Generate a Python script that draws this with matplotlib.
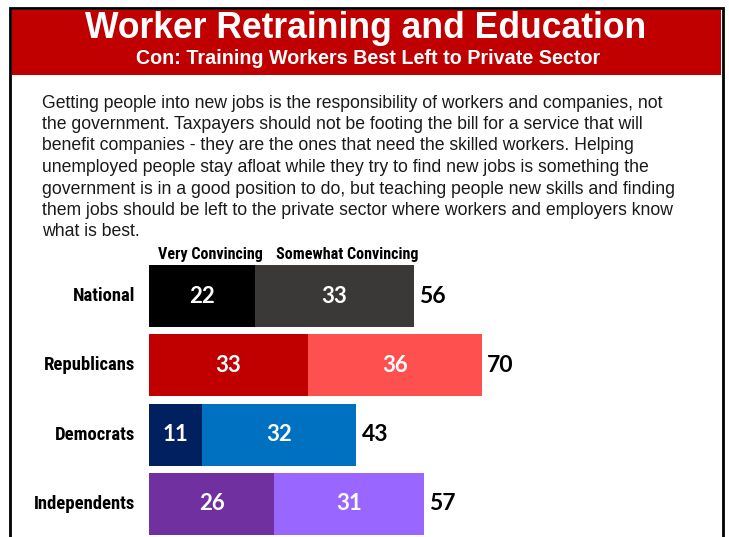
import matplotlib
matplotlib.use("Agg")
import matplotlib.pyplot as plt
from matplotlib.patches import Rectangle
from matplotlib import font_manager

W, H, DPI = 729, 537, 100

title = "Worker Retraining and Education"
subtitle = "Con: Training Workers Best Left to Private Sector"
body_lines = [
    "Getting people into new jobs is the responsibility of workers and companies, not",
    "the government. Taxpayers should not be footing the bill for a service that will",
    "benefit companies - they are the ones that need the skilled workers. Helping",
    "unemployed people stay afloat while they try to find new jobs is something the",
    "government is in a good position to do, but teaching people new skills and finding",
    "them jobs should be left to the private sector where workers and employers know",
    "what is best.",
]

groups = ["National", "Republicans", "Democrats", "Independents"]
very = [22, 33, 11, 26]
somewhat = [33, 36, 32, 31]
totals = [56, 70, 43, 57]
series_names = ["Very Convincing", "Somewhat Convincing"]

very_colors = ["#000000", "#C00000", "#002060", "#7030A0"]
somewhat_colors = ["#3B3838", "#FF5050", "#0070C0", "#9966FF"]

available = {f.name for f in font_manager.fontManager.ttflist}
narrow = next((n for n in ["Roboto Condensed", "Liberation Sans Narrow",
                           "DejaVu Sans Condensed"]
               if n in available), "Liberation Sans")
numfont = "Lato" if "Lato" in available else "DejaVu Sans"
sans = "Liberation Sans"

fig = plt.figure(figsize=(W / DPI, H / DPI), dpi=DPI)


def fx(px):
    return px / W


def fy(py):
    return 1 - py / H


# frame and header banner
fig.patches.append(Rectangle((fx(10), fy(545)), fx(723) - fx(10), fy(8) - fy(545),
                             transform=fig.transFigure, facecolor="none",
                             edgecolor="black", linewidth=2, zorder=0))
fig.patches.append(Rectangle((fx(12), fy(75)), fx(721) - fx(12), fy(10) - fy(75),
                             transform=fig.transFigure, facecolor="#C00000",
                             edgecolor="none", zorder=1))

fig.text(fx(366), fy(29), title, ha="center", va="center", color="white",
         fontsize=25.6, fontweight="bold", family=sans)
fig.text(fx(368), fy(59), subtitle, ha="center", va="center", color="white",
         fontsize=14.2, fontweight="bold", family=sans)

for i, line in enumerate(body_lines):
    fig.text(fx(42), fy(103 + i * 21.5), line, ha="left", va="center",
             color="#1a1a1a", fontsize=12.7, family=sans)

# bar chart area
x0_px, unit_px = 149, 4.82
row0_px, row_px = 296, 69.3
ax_top, ax_bot = 250, 537
ax = fig.add_axes([fx(x0_px), fy(ax_bot), fx(W) - fx(x0_px), fy(ax_top) - fy(ax_bot)])
ax.set_xlim(0, (W - x0_px) / unit_px)
ax.set_ylim((ax_bot - row0_px) / row_px, (ax_top - row0_px) / row_px)
ax.axis("off")

ypos = list(range(len(groups)))
bh = 62 / row_px
ax.barh(ypos, very, height=bh, color=very_colors, left=0)
ax.barh(ypos, somewhat, height=bh, color=somewhat_colors, left=very)

for y, g, v, s, t in zip(ypos, groups, very, somewhat, totals):
    ax.text(v / 2, y, str(v), ha="center", va="center", color="white",
            fontsize=16, fontweight="bold", family=numfont)
    ax.text(v + s / 2, y, str(s), ha="center", va="center", color="white",
            fontsize=16, fontweight="bold", family=numfont)
    ax.text(v + s + 1.1, y, str(t), ha="left", va="center", color="black",
            fontsize=16.5, fontweight="bold", family=numfont)
    ax.text(-2.9, y, g, ha="right", va="center", color="black",
            fontsize=13.4, fontweight="bold", family=narrow)

fig.text(fx(210), fy(254), series_names[0], ha="center", va="center",
         color="black", fontsize=11.6, fontweight="bold", family=narrow)
fig.text(fx(347), fy(254), series_names[1], ha="center", va="center",
         color="black", fontsize=11.6, fontweight="bold", family=narrow)

fig.savefig("out.png", dpi=DPI)
